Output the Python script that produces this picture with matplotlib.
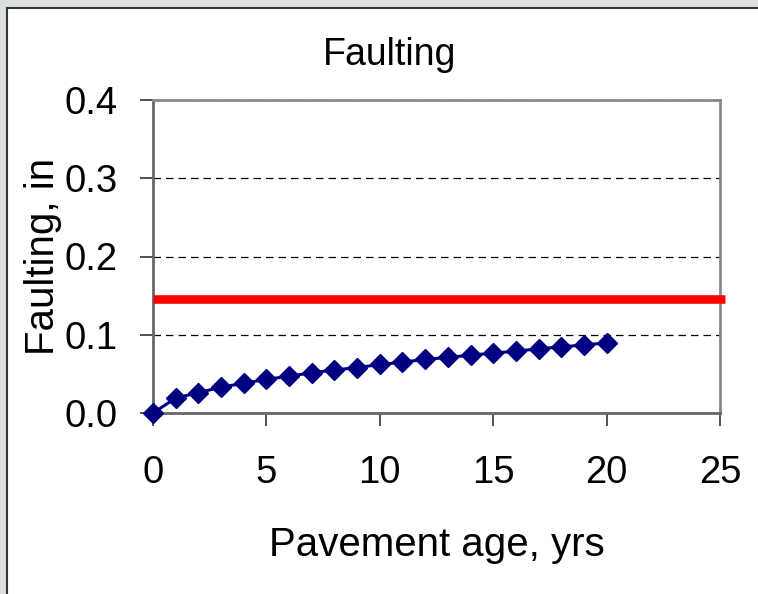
import matplotlib.pyplot as plt
from matplotlib.patches import Rectangle

plt.rcParams['font.family'] = ['Liberation Sans', 'DejaVu Sans']

age = list(range(0, 21))
faulting = [0.0, 0.019, 0.026, 0.033, 0.038, 0.043, 0.047, 0.0515, 0.055, 0.058,
            0.062, 0.065, 0.0685, 0.071, 0.074, 0.0765, 0.079, 0.082, 0.0845, 0.087, 0.0895]
limit_x = [0, 25.2]
limit_y = [0.146, 0.146]

fig = plt.figure(figsize=(7.58, 5.94), dpi=100)
fig.patch.set_facecolor('#dcdfdf')
fig.patches.append(Rectangle((7 / 758, -0.01), 1.0, 1 - 8 / 594 + 0.01, transform=fig.transFigure,
                             facecolor='white', edgecolor='#333333', linewidth=1.5, zorder=-10))

ax = fig.add_axes([153 / 758, 1 - 413 / 594, (720 - 153) / 758, (413 - 100) / 594])
ax.set_zorder(1)
ax.set_facecolor('white')

ax.plot(limit_x, limit_y, color='#ff0000', linewidth=6.2, solid_capstyle='butt', clip_on=False, zorder=3)
ax.plot(age, faulting, color='#000080', linewidth=2.2, marker='D', markersize=10.5, clip_on=False, zorder=4)

ax.set_xlim(0, 25)
ax.set_ylim(0, 0.4)
ax.set_xticks([0, 5, 10, 15, 20, 25])
ax.set_yticks([0.0, 0.1, 0.2, 0.3, 0.4])
ax.set_yticklabels(['0.0', '0.1', '0.2', '0.3', '0.4'])
ax.yaxis.grid(True, linestyle=(0, (6, 4)), color='black', linewidth=0.9)
ax.set_axisbelow(True)

for side in ['top', 'right']:
    ax.spines[side].set_color('#888888')
    ax.spines[side].set_linewidth(2)
for side in ['left', 'bottom']:
    ax.spines[side].set_color('#666666')
    ax.spines[side].set_linewidth(2)

ax.tick_params(axis='x', direction='out', length=9.5, width=1.2, color='#333333',
               labelsize=27.5, pad=21)
ax.tick_params(axis='y', direction='out', length=9.5, width=1.2, color='#333333',
               labelsize=27.5, pad=16)

ax.set_title('Faulting', fontsize=27, pad=25, x=0.418)
ax.set_xlabel('Pavement age, yrs', fontsize=29)
ax.set_ylabel('Faulting, in', fontsize=29)
ax.xaxis.set_label_coords(0.5, -0.36)
ax.yaxis.set_label_coords(-0.16, 0.5)

fig.savefig('out.png', dpi=100)
